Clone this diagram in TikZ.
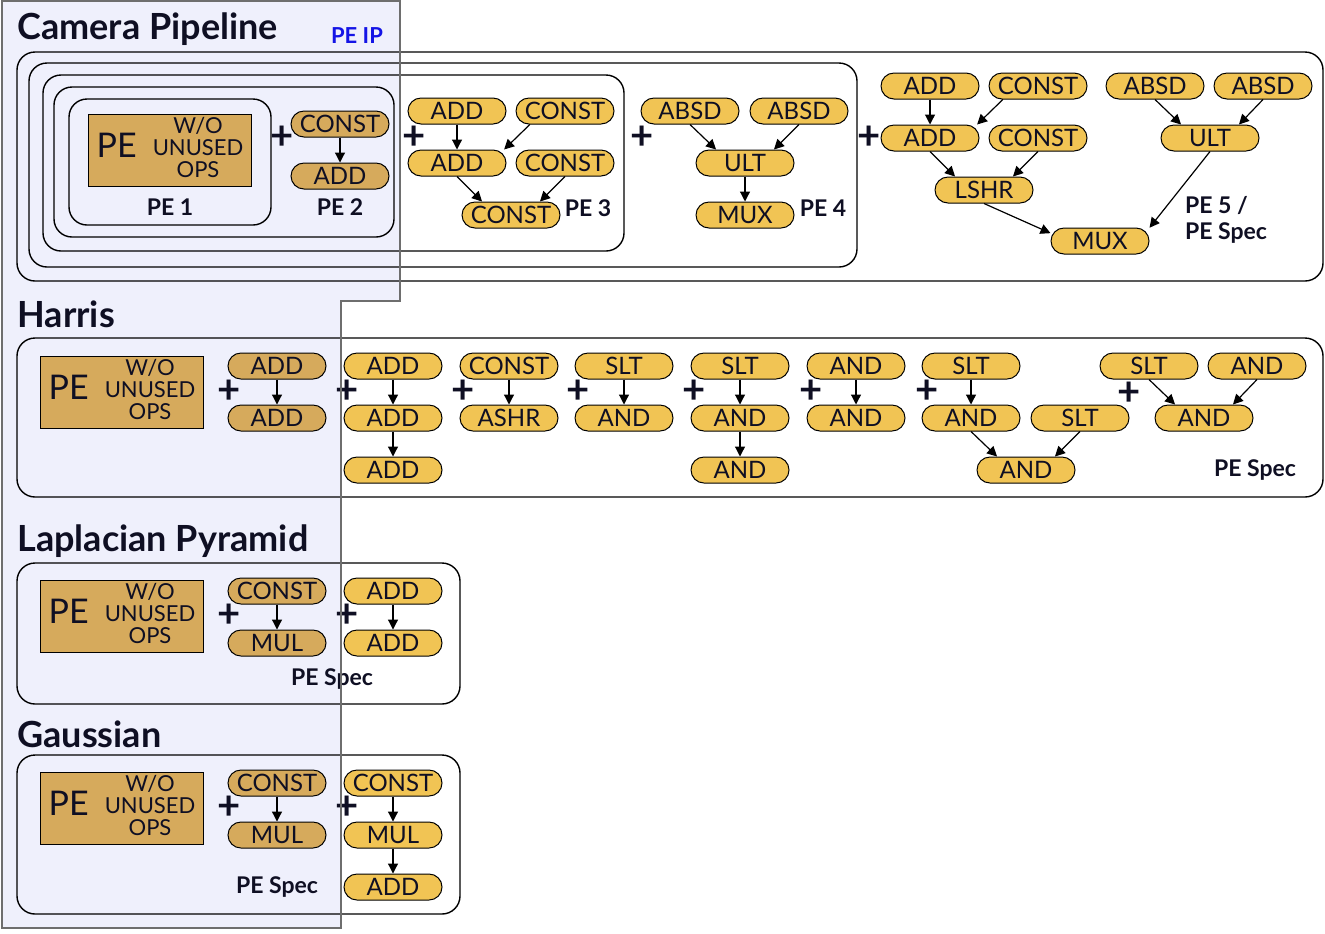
\documentclass[tikz,border=0pt]{standalone}
\usepackage{fontspec}
\setmainfont{Lato}
\usetikzlibrary{arrows.meta}

\definecolor{ipfill}{RGB}{239,240,252}
\definecolor{ipline}{RGB}{110,110,110}
\definecolor{iptan}{RGB}{214,170,92}
\definecolor{specgold}{RGB}{241,196,84}
\definecolor{ipblue}{RGB}{20,20,230}
\definecolor{ink}{RGB}{15,15,35}

% text inside the big PE boxes
\newcommand{\pewo}{%
  \raisebox{-1pt}{\begin{tabular}{@{}c@{}}\fontsize{17}{17}\selectfont PE\end{tabular}}\hspace{8pt}%
  \raisebox{-2pt}{\fontsize{11}{10}\selectfont\begin{tabular}{@{}c@{}}W/O\\UNUSED\\OPS\end{tabular}}}

\begin{document}
\begin{tikzpicture}[
        x=0.5pt,
        y=-0.5pt,
        every node/.style={text=ink},
        op/.style={draw=black, line width=0.5pt, rounded corners=6.5pt,
            minimum width=49pt, minimum height=13pt, inner sep=0pt,
            font=\fontsize{12}{12}\selectfont},
        ipop/.style={op, fill=iptan},
        specop/.style={op, fill=specgold},
        pebox/.style={draw=black, line width=0.5pt, fill=iptan,
            minimum width=81.5pt, minimum height=36pt, inner sep=0pt},
        group/.style={draw=black, line width=0.7pt, rounded corners=9pt},
        title/.style={anchor=base west, inner sep=0pt, font=\fontsize{18}{18}\selectfont\bfseries},
        pelabel/.style={font=\fontsize{11.5}{13}\selectfont\bfseries},
        plus/.style={inner sep=0pt, font=\fontsize{20}{20}\selectfont\bfseries},
        flow/.style={-{Triangle[length=5pt,width=5pt]}, line width=0.6pt}
    ]
        \useasboundingbox (0,0) rectangle (1325,933);
        \fill[white] (0,0) rectangle (1325,933);

        % PE IP region
        \fill[ipfill] (2,1) -- (400,1) -- (400,301) -- (341,301) -- (341,928) -- (2,928) -- cycle;

        % Camera Pipeline
        \node[title] (tcam) at (17,39){Camera Pipeline};
        \node[font=\fontsize{11}{11}\selectfont\bfseries, text=ipblue] (ipname) at (357,36){PE IP};

        \draw[group] (69,99) rectangle (271,225);
        \draw[group] (54,87) rectangle (394,237);
        \draw[group] (43,75) rectangle (624,251);
        \draw[group] (29,63) rectangle (857,267);
        \draw[group] (17,52) rectangle (1323,281);

        \node[pebox] (pe1) at (170,150){\pewo};
        \node[pelabel] (pe1name) at (170,207){PE 1};

        \node[plus] (cplus2) at (282,138){+};
        \node[ipop] (c2const) at (340,124){CONST};
        \node[ipop] (c2add) at (340,176){ADD};
        \node[pelabel] (pe2name) at (340,207){PE 2};
        \draw[flow] (c2const) -- (c2add);

        \node[plus] (cplus3) at (414,138){+};
        \node[specop] (c3add) at (457,111){ADD};
        \node[specop] (c3const) at (565,111){CONST};
        \node[specop] (c3addb) at (457,163){ADD};
        \node[specop] (c3constb) at (565,163){CONST};
        \node[specop] (c3constc) at (511,215){CONST};
        \node[pelabel] (pe3name) at (588,208){PE 3};
        \draw[flow] (c3add) -- (c3addb);
        \draw[flow] (c3const.201) -- (c3addb.16);
        \draw[flow] (c3addb.south) -- (c3constc.155);
        \draw[flow] (c3constb.south) -- (c3constc.25);

        \node[plus] (cplus4) at (642,138){+};
        \node[specop] (c4absd) at (690,111){ABSD};
        \node[specop] (c4absdb) at (799,111){ABSD};
        \node[specop] (c4ult) at (745,163){ULT};
        \node[specop] (c4mux) at (745,215){MUX};
        \node[pelabel] (pe4name) at (823,208){PE 4};
        \draw[flow] (c4absd.south) -- (c4ult.155);
        \draw[flow] (c4absdb.south) -- (c4ult.25);
        \draw[flow] (c4ult) -- (c4mux);

        \node[plus] (cplus5) at (869,138){+};
        \node[specop] (c5add) at (930,86){ADD};
        \node[specop] (c5const) at (1038,86){CONST};
        \node[specop] (c5addb) at (930,138){ADD};
        \node[specop] (c5constb) at (1038,138){CONST};
        \node[specop] (c5lshr) at (984,190){LSHR};
        \node[specop] (c5mux) at (1100,241){MUX};
        \node[specop] (c5absd) at (1155,86){ABSD};
        \node[specop] (c5absdb) at (1263,86){ABSD};
        \node[specop] (c5ult) at (1210,138){ULT};
        \node[pelabel, anchor=west, align=left] (pe5name) at (1178,220){PE 5 /\\PE Spec};
        \draw[flow] (c5add) -- (c5addb);
        \draw[flow] (c5const.201) -- (c5addb.16);
        \draw[flow] (c5addb.south) -- (c5lshr.155);
        \draw[flow] (c5constb.south) -- (c5lshr.25);
        \draw[flow] (c5absd.south) -- (c5ult.155);
        \draw[flow] (c5absdb.south) -- (c5ult.25);
        \draw[flow] (c5lshr.south) -- (c5mux.171);
        \draw[flow] (c5ult.south) -- (c5mux.15);

        % Harris
        \node[title] (thar) at (17,327){Harris};
        \draw[group] (17,338) rectangle (1323,497);

        \node[pebox] (hpe) at (122,392){\pewo};

        \node[plus] (hplus1) at (229,392){+};
        \node[ipop] (h1add) at (277,366){ADD};
        \node[ipop] (h1addb) at (277,418){ADD};
        \draw[flow] (h1add) -- (h1addb);

        \node[plus] (hplus2) at (347,392){+};
        \node[specop] (h2add) at (393,366){ADD};
        \node[specop] (h2addb) at (393,418){ADD};
        \node[specop] (h2addc) at (393,470){ADD};
        \draw[flow] (h2add) -- (h2addb);
        \draw[flow] (h2addb) -- (h2addc);

        \node[plus] (hplus3) at (463,392){+};
        \node[specop] (h3const) at (509,366){CONST};
        \node[specop] (h3ashr) at (509,418){ASHR};
        \draw[flow] (h3const) -- (h3ashr);

        \node[plus] (hplus4) at (578,392){+};
        \node[specop] (h4slt) at (624,366){SLT};
        \node[specop] (h4and) at (624,418){AND};
        \draw[flow] (h4slt) -- (h4and);

        \node[plus] (hplus5) at (694,392){+};
        \node[specop] (h5slt) at (740,366){SLT};
        \node[specop] (h5and) at (740,418){AND};
        \node[specop] (h5andb) at (740,470){AND};
        \draw[flow] (h5slt) -- (h5and);
        \draw[flow] (h5and) -- (h5andb);

        \node[plus] (hplus6) at (811,392){+};
        \node[specop] (h6and) at (856,366){AND};
        \node[specop] (h6andb) at (856,418){AND};
        \draw[flow] (h6and) -- (h6andb);

        \node[plus] (hplus7) at (927,392){+};
        \node[specop] (h7slt) at (971,366){SLT};
        \node[specop] (h7and) at (971,418){AND};
        \node[specop] (h7sltb) at (1080,418){SLT};
        \node[specop] (h7andb) at (1026,470){AND};
        \draw[flow] (h7slt) -- (h7and);
        \draw[flow] (h7and.south) -- (h7andb.155);
        \draw[flow] (h7sltb.south) -- (h7andb.25);

        \node[plus] (hplus8) at (1129,394){+};
        \node[specop] (h8slt) at (1149,366){SLT};
        \node[specop] (h8and) at (1257,366){AND};
        \node[specop] (h8andb) at (1204,418){AND};
        \draw[flow] (h8slt.south) -- (h8andb.155);
        \draw[flow] (h8and.south) -- (h8andb.25);
        \node[pelabel] (hspec) at (1255,470){PE Spec};

        % Laplacian Pyramid
        \node[title] (tlap) at (17,551){Laplacian Pyramid};
        \draw[group] (17,563) rectangle (460,704);

        \node[pebox] (lpe) at (122,616){\pewo};

        \node[plus] (lplus1) at (229,616){+};
        \node[ipop] (l1const) at (277,591){CONST};
        \node[ipop] (l1mul) at (277,643){MUL};
        \draw[flow] (l1const) -- (l1mul);

        \node[plus] (lplus2) at (347,616){+};
        \node[specop] (l2add) at (393,591){ADD};
        \node[specop] (l2addb) at (393,643){ADD};
        \draw[flow] (l2add) -- (l2addb);
        \node[pelabel] (lspec) at (332,679){PE Spec};

        % Gaussian
        \node[title] (tgau) at (17,747){Gaussian};
        \draw[group] (17,755) rectangle (460,914);

        \node[pebox] (gpe) at (122,808){\pewo};

        \node[plus] (gplus1) at (229,808){+};
        \node[ipop] (g1const) at (277,783){CONST};
        \node[ipop] (g1mul) at (277,835){MUL};
        \draw[flow] (g1const) -- (g1mul);

        \node[plus] (gplus2) at (347,808){+};
        \node[specop] (g2const) at (393,783){CONST};
        \node[specop] (g2mul) at (393,835){MUL};
        \node[specop] (g2add) at (393,887){ADD};
        \draw[flow] (g2const) -- (g2mul);
        \draw[flow] (g2mul) -- (g2add);
        \node[pelabel] (gspec) at (277,887){PE Spec};

        % PE IP outline on top
        \draw[ipline, line width=1pt] (2,1) -- (400,1) -- (400,301) -- (341,301) -- (341,928) -- (2,928) -- cycle;
    \end{tikzpicture}
\end{document}
